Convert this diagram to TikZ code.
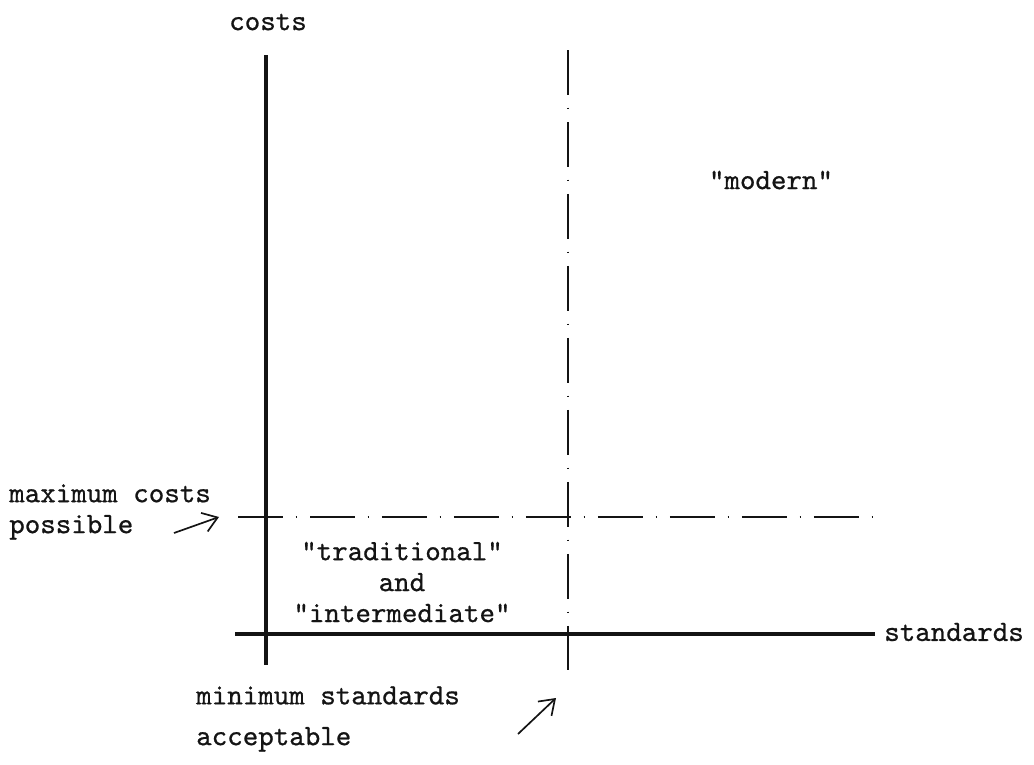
\documentclass[tikz,border=0pt]{standalone}
\usepackage{fontspec}
\usepackage{tikz}
\usetikzlibrary{arrows.meta}
\definecolor{inkcol}{RGB}{20,20,20}
% typewriter face, slightly heavier strokes
\newfontfamily\typewriter{lmmono10-regular.otf}[FakeBold=0.7]

\tikzset{
	axisline/.style={inkcol, line width=2.8pt},
	limitline/.style={inkcol, line width=1.3pt, dash pattern=on 32pt off 9pt on 1.2pt off 9pt},
	pointer/.style={inkcol, line width=1.2pt, -{Straight Barb[length=10pt, width=14pt]}},
	txt/.style={inkcol, font=\fontsize{21}{22}\selectfont\typewriter, inner sep=0pt},
}

\begin{document}
\begin{tikzpicture}[x=0.025cm, y=-0.025cm]

	% --- Frame (pixel-like units, y downwards) ---
	\useasboundingbox (0,0) rectangle (1034,764);

	% =============================================
	%  AXES
	% =============================================

	\coordinate (ytop) at (266,55);
	\coordinate (ybot) at (266,665);
	\coordinate (xleft) at (235,634);
	\coordinate (xright) at (875,634);

	\draw[axisline] (ytop) -- (ybot);
	\draw[axisline] (xleft) -- (xright);

	\node[txt] (costslabel) at (268,22) {costs};
	\node[txt, anchor=west] (stdlabel) at (884,632) {standards};

	% =============================================
	%  LIMITS (dash-dot)
	% =============================================

	\coordinate (mtop) at (568,50);
	\coordinate (mbot) at (568,670);
	\coordinate (cleft) at (238,517);
	\coordinate (cright) at (875,517);

	\draw[limitline] (mtop) -- (mbot);
	\draw[limitline] (cleft) -- (cright);

	% =============================================
	%  REGION LABELS
	% =============================================

	\node[txt] (modern) at (771,180) {"modern"};
	\node[txt, align=center] (trad) at (402,582)
	{"traditional"\\and\\"intermediate"};

	% =============================================
	%  ANNOTATIONS
	% =============================================

	\node[txt, align=left, anchor=west] (maxlabel) at (9,512)
	{maximum costs\\possible};
	\coordinate (maxtail) at (174,533);
	\coordinate (maxtip) at (219,517);
	\draw[pointer] (maxtail) -- (maxtip);

	\node[txt, align=left, anchor=west, font=\fontsize{21}{29}\selectfont\typewriter]
	(minlabel) at (196,719) {minimum standards\\acceptable};
	\coordinate (mintail) at (518,734);
	\coordinate (mintip) at (556,698);
	\draw[pointer] (mintail) -- (mintip);

\end{tikzpicture}
\end{document}
